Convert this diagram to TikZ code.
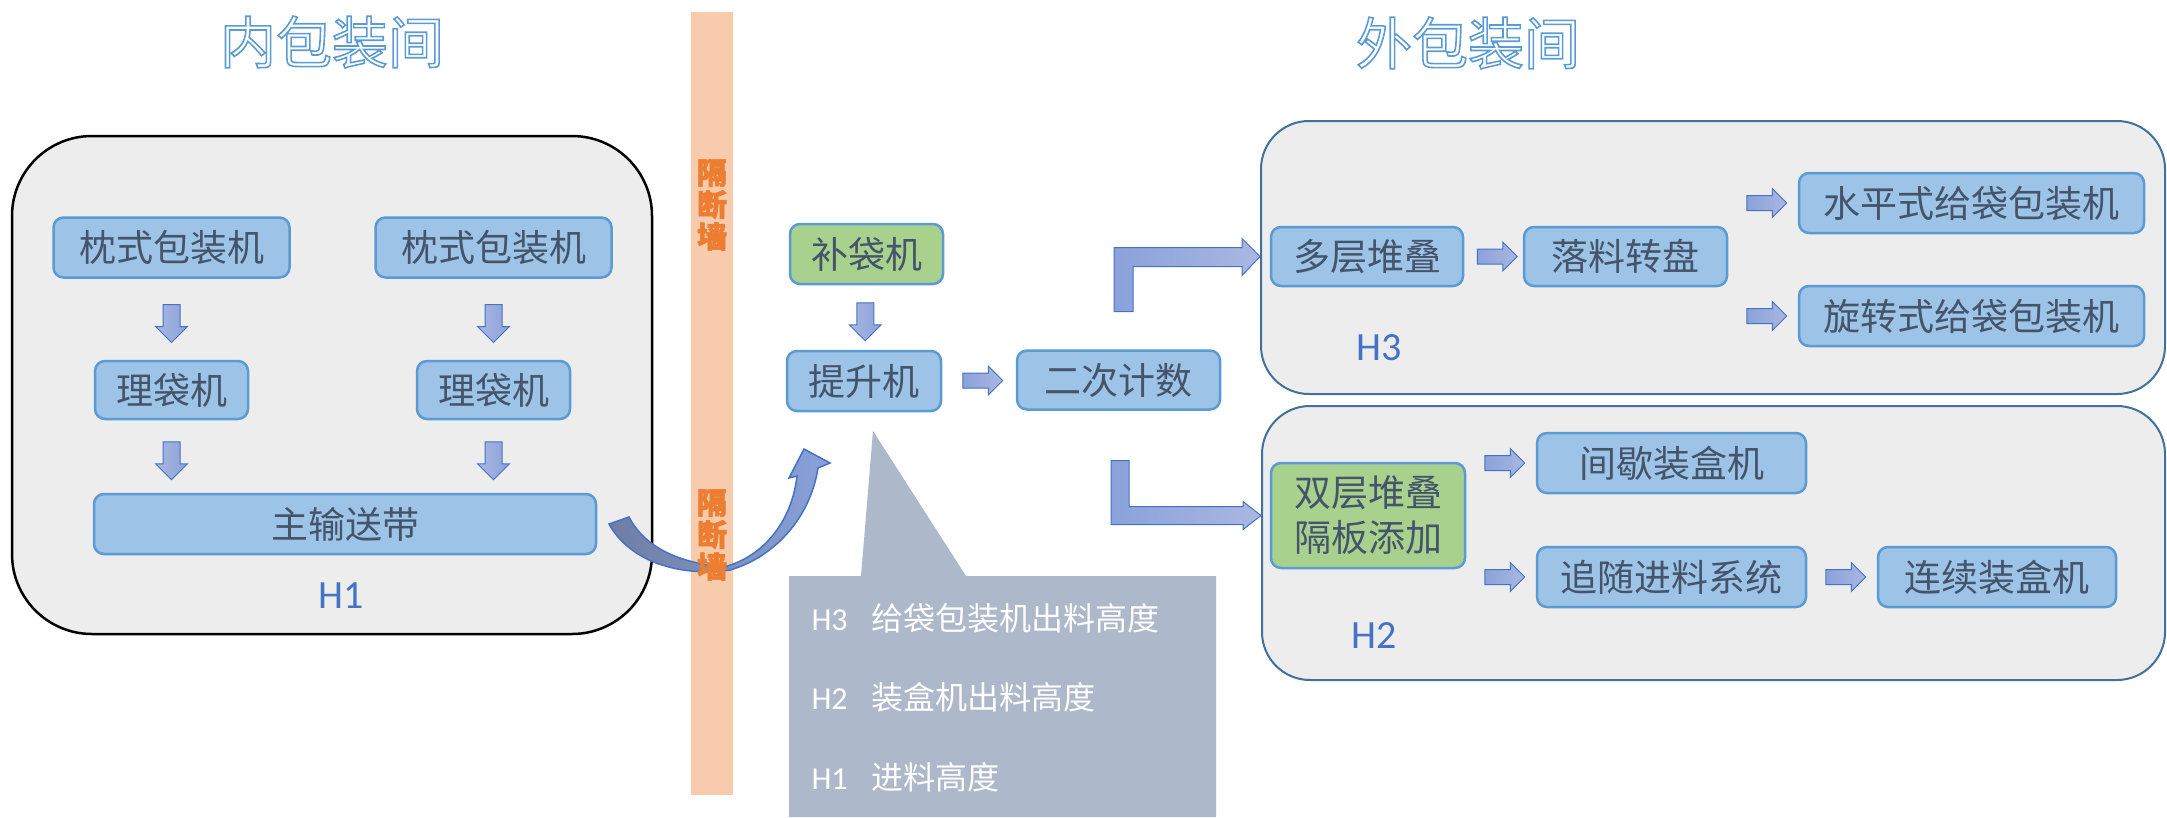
\documentclass[tikz,border=0pt]{standalone}
\usepackage{fontspec}
\setmainfont{Noto Sans CJK SC}
\newfontfamily\latfont{Carlito}
\usetikzlibrary{shapes.arrows,calc}

\definecolor{roomfill}{HTML}{EDEDED}
\definecolor{roomline}{HTML}{41719C}
\definecolor{boxfill}{HTML}{9DC3E6}
\definecolor{boxline}{HTML}{5B9BD5}
\definecolor{greenfill}{HTML}{A9D18E}
\definecolor{textgray}{HTML}{44546A}
\definecolor{labelblue}{HTML}{4472C4}
\definecolor{wallfill}{HTML}{F8CBAD}
\definecolor{walltext}{HTML}{ED7D31}
\definecolor{notefill}{HTML}{ADB9CA}
\definecolor{arrline}{HTML}{4472C4}
\definecolor{arrdark}{HTML}{8AA2DA}
\definecolor{arrlight}{HTML}{AAB7E2}
\definecolor{curvedark}{HTML}{6F7DA2}

% white letters with a blue outline (text render mode 2)
\newcommand{\outlinetext}[1]{\textcolor{white}{\special{pdf:literal direct 0.357 0.608 0.835 RG 1.6 w 2 Tr}#1\special{pdf:literal direct 0 Tr}}}
% heavier letters: stroke in the text colour
\newcommand{\heavytext}[1]{\special{pdf:literal direct 0.5 w 2 Tr}#1\special{pdf:literal direct 0 Tr}}

\tikzset{
  room/.style={fill=roomfill, line width=2pt, inner sep=0pt},
  box/.style={draw=boxline, line width=2.5pt, fill=boxfill, rounded corners=10pt,
    text=textgray, font=\fontsize{37}{45}\selectfont, align=center, inner sep=0pt, minimum height=60pt},
  greenbox/.style={box, fill=greenfill},
  roomlabel/.style={text=labelblue, font=\latfont\fontsize{40}{44}\selectfont},
  title/.style={font=\fontsize{56}{60}\selectfont},
  downarr/.style={single arrow, rotate=-90, draw=arrline, line width=1pt, left color=arrlight, right color=arrdark,
    minimum height=38pt, inner xsep=0pt, inner ysep=8pt, single arrow head extend=7.5pt},
  rightarr/.style={single arrow, draw=arrline, line width=1pt, left color=arrdark, right color=arrlight,
    minimum height=40pt, inner xsep=0pt, inner ysep=7pt, single arrow head extend=7pt},
  bentarr/.style={draw=arrline, line width=1pt, left color=arrdark, right color=arrlight},
  curvearr/.style={draw=arrline, line width=1.5pt, left color=curvedark, right color=arrdark},
  walltxt/.style={text=walltext, font=\bfseries\fontsize{30}{32}\selectfont, align=center},
  notetext/.style={anchor=west, text=white, font=\fontsize{32}{36}\selectfont}
}

\begin{document}
\begin{tikzpicture}[x=1pt,y=-1pt]
\useasboundingbox (0,0) rectangle (2167,817);

\node[title] (title1) at (332,42) {\outlinetext{内包装间}};
\node[title] (title2) at (1468,43) {\outlinetext{外包装间}};

\node[room,draw=black,line width=2.5pt,minimum width=640pt,minimum height=498pt,rounded corners=80pt] (h1room) at (332,385) {};
\node[room,draw=roomline,minimum width=904pt,minimum height=273pt,rounded corners=48pt] (h3room) at (1713,257.5) {};
\node[room,draw=roomline,minimum width=903pt,minimum height=274pt,rounded corners=48pt] (h2room) at (1713.5,543) {};

\foreach \col/\xx in {1/171.5,2/493.5}{
  \node[box,minimum width=236pt] (zhen\col) at (\xx,247.5) {枕式包装机};
  \node[box,minimum width=153pt,minimum height=58pt] (lidai\col) at (\xx,390) {理袋机};
  \node[downarr] (arrzl\col) at ($(zhen\col.south)!0.5!(lidai\col.north)$) {};
}
\node[box,minimum width=502pt] (belt) at (345,524) {主输送带};
\foreach \col in {1,2}
  \node[downarr] (arrlb\col) at ($(lidai\col.south)!0.5!(lidai\col.south |- belt.north)$) {};
\node[roomlabel] (labelH1) at (341,596) {H1};

\node[fill=wallfill,inner sep=0pt,minimum width=42pt,minimum height=783pt] (wall) at (712,403.5) {};
\draw[curvearr] (609,524) .. controls (630,562) and (680,577) .. (730,570)
  .. controls (772,558) and (810,520) .. (818,468)
  -- (830,463) -- (804,449) -- (789,478) -- (797,476)
  .. controls (792,520) and (765,556) .. (724,567)
  .. controls (680,563) and (645,548) .. (629,517) -- cycle;
\node[walltxt] (wallname1) at (712,205) {\heavytext{隔\\断\\墙}};
\node[walltxt] (wallname2) at (712,535) {\heavytext{隔\\断\\墙}};

\node[greenbox,minimum width=153pt] (budai) at (866.5,254) {补袋机};
\node[box,minimum width=154pt] (tisheng) at (864,381) {提升机};
\node[box,minimum width=203pt,minimum height=59pt] (jishu) at (1118.5,380) {二次计数};
\node[downarr] (arrbt) at ($(budai.south)!0.5!(tisheng.north)$) {};
\node[rightarr] (arrtj) at ($(tisheng.east)!0.5!(jishu.west)$) {};

\fill[notefill] (789,576) -- (861,576) -- (873,431) -- (966,576) -- (1216,576) -- (1216,817) -- (789,817) -- cycle;
\foreach \hh/\txt/\yy in {H3/给袋包装机出料高度/618,H2/装盒机出料高度/697,H1/进料高度/777}
  \node[notetext] (note\hh) at (808,\yy) {{\latfont \hh}\hspace{24pt}\txt};

\node[box,minimum width=192pt,minimum height=59pt] (duoceng) at (1367,256.5) {多层堆叠};
\node[box,minimum width=203pt,minimum height=59pt] (luoliao) at (1625.5,256.5) {落料转盘};
\node[box,minimum width=345pt] (shuiping) at (1971.5,203) {水平式给袋包装机};
\node[box,minimum width=345pt] (xuanzhuan) at (1971.5,316) {旋转式给袋包装机};
\node[rightarr] (arrdl) at ($(duoceng.east)!0.5!(luoliao.west)$) {};
\node[rightarr] (arrls) at ($(luoliao.east |- shuiping.west)!0.5!(shuiping.west)$) {};
\node[rightarr] (arrlx) at ($(luoliao.east |- xuanzhuan.west)!0.5!(xuanzhuan.west)$) {};
\node[roomlabel] (labelH3) at (1379,348) {H3};

\node[greenbox,minimum width=194pt,minimum height=105pt] (shuangceng) at (1368,515.5) {双层堆叠\\隔板添加};
\node[box,minimum width=269pt] (jianxie) at (1671.5,463) {间歇装盒机};
\node[box,minimum width=269pt] (zhuisui) at (1671.5,577) {追随进料系统};
\node[box,minimum width=238pt] (lianxu) at (1997,577) {连续装盒机};
\node[rightarr] (arrsj) at ($(shuangceng.east |- jianxie.west)!0.5!(jianxie.west)$) {};
\node[rightarr] (arrsz) at ($(shuangceng.east |- zhuisui.west)!0.5!(zhuisui.west)$) {};
\node[rightarr] (arrzl) at ($(zhuisui.east)!0.5!(lianxu.west)$) {};
\node[roomlabel] (labelH2) at (1374,636) {H2};

\coordinate (tipH3) at (h3room.west |- duoceng.west);
\coordinate (tipH2) at (h2room.west |- shuangceng.west);
\draw[bentarr] (tipH3) -- ++(-18,-18) -- ++(0,9) -- ++(-128,0) -- ++(0,64) -- ++(19,0) -- ++(0,-45) -- ++(109,0) -- ++(0,9) -- cycle;
\draw[bentarr] (tipH2) -- ++(-18,-14) -- ++(0,5) -- ++(-114,0) -- ++(0,-46) -- ++(-18,0) -- ++(0,64) -- ++(132,0) -- ++(0,5) -- cycle;
\end{tikzpicture}
\end{document}
